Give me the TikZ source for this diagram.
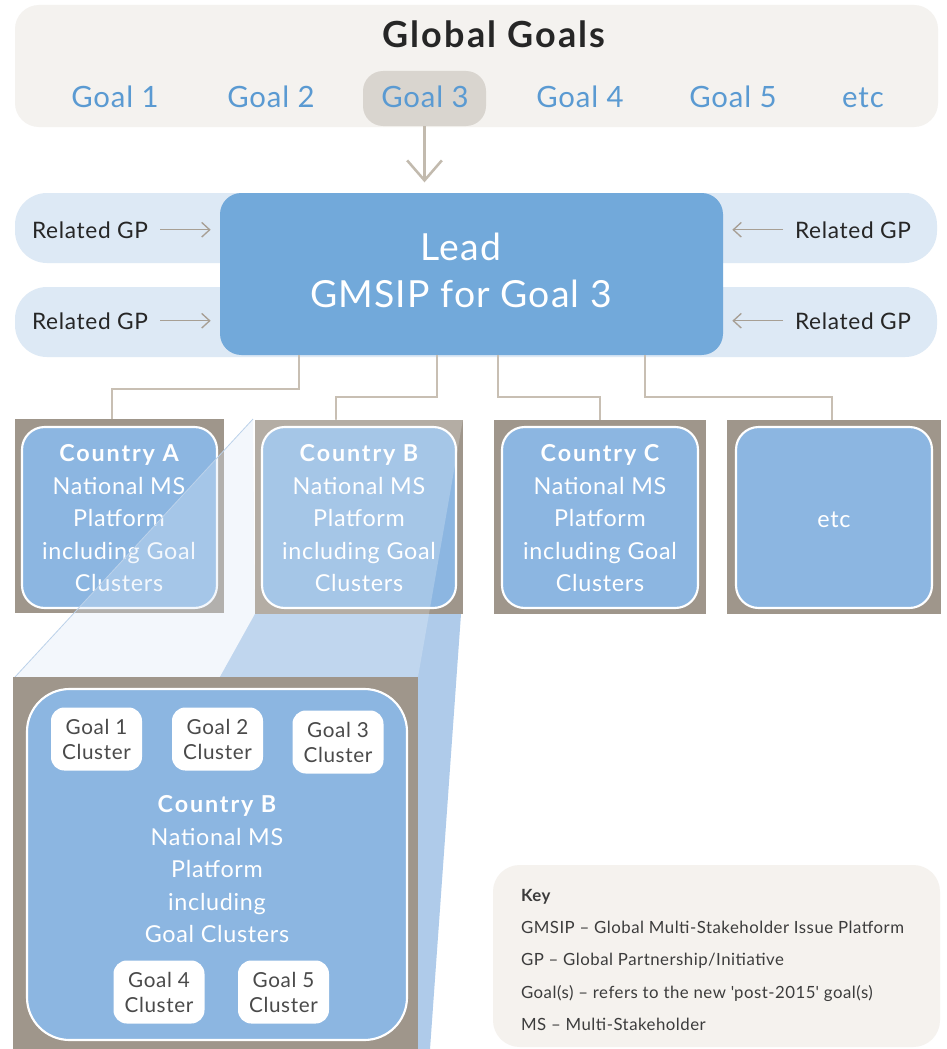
\documentclass[tikz,border=0pt]{standalone}
\usepackage{fontspec}
\setmainfont{Lato}[LetterSpace=3]
\usetikzlibrary{arrows.meta,fit,calc}
\definecolor{ggbg}{HTML}{F4F2EF}
\definecolor{goalhl}{HTML}{D9D5CF}
\definecolor{goalblue}{HTML}{5A9AD2}
\definecolor{leadblue}{HTML}{72A9DA}
\definecolor{bandblue}{HTML}{DDE9F5}
\definecolor{cblue}{HTML}{8CB6E1}
\definecolor{framec}{HTML}{9F968B}
\definecolor{connc}{HTML}{C8BFB3}
\definecolor{arrowc}{HTML}{C2BAAE}
\definecolor{relarrc}{HTML}{A79F94}
\definecolor{keybg}{HTML}{F5F2EE}
\definecolor{darktext}{HTML}{262626}
\definecolor{keytextc}{HTML}{3C3C3C}
\definecolor{cltextc}{HTML}{4A4A4A}
\definecolor{beamlight}{HTML}{DCE9F7}
\definecolor{beammid}{HTML}{AFCBEA}
\definecolor{beamedge}{HTML}{BCD2EA}
\newcommand\fsz[2]{\fontsize{#1}{#2}\selectfont}
\newcommand\cbold[1]{{\bfseries\addfontfeature{LetterSpace=8}#1}}
\begin{document}
\begin{tikzpicture}[x=0.75pt,y=-0.75pt,
  area/.style={inner sep=0pt, outer sep=0pt, draw=none},
  lbl/.style={inner sep=0pt, outer sep=0pt, anchor=base},
  goallbl/.style={lbl, font=\fsz{22}{26}, text=goalblue},
  reltext/.style={lbl, font=\fsz{17}{20}, text=darktext},
  relarr/.style={draw=relarrc, line width=1pt, -{Straight Barb[length=6pt,width=11pt]}},
  bigarrow/.style={draw=arrowc, line width=1.9pt, -{Straight Barb[length=15pt,width=26pt,line width=1.9pt]}},
  conn/.style={draw=connc, line width=1.9pt},
  framebox/.style={area, fill=framec},
  innerbox/.style={area, fill=cblue, draw=white, line width=1.6pt, rounded corners=17pt},
  ctext/.style={inner sep=0pt, outer sep=0pt, align=center, text=white, font=\fsz{17.5}{24.4}},
  cluster/.style={fill=white, rounded corners=10pt, inner sep=0pt, align=center,
    minimum width=91*0.75pt, minimum height=63*0.75pt, text=cltextc, font=\fsz{15.5}{18.75}},
  keyline/.style={lbl, anchor=base west, font=\fsz{12.6}{16}, text=keytextc}
]
\useasboundingbox (0,0) rectangle (946,1049);
\fill[white] (0,0) rectangle (946,1049);

% Global goals
\node[area, fill=ggbg, rounded corners=18pt, fit={(15,5) (938,127)}] (gg) {};
\node[lbl, font=\fsz{27}{30}\bfseries\addfontfeature{LetterSpace=6}, text=darktext] (ggt) at (494,48) {Global Goals};
\node[area, fill=goalhl, rounded corners=15pt, fit={(363,71) (486,126)}] (g3box) {};
\node[goallbl] (g1) at (115,108) {Goal 1};
\node[goallbl] (g2) at (271,108) {Goal 2};
\node[goallbl] (g3) at (425,108) {Goal 3};
\node[goallbl] (g4) at (580,108) {Goal 4};
\node[goallbl] (g5) at (733,108) {Goal 5};
\node[goallbl] (g6) at (863,108) {etc};

% Bands and lead box
\node[area, fill=bandblue, rounded corners=24pt, fit={(15,193) (937,263)}] (band1) {};
\node[area, fill=bandblue, rounded corners=24pt, fit={(15,287) (937,357)}] (band2) {};
\node[area, fill=leadblue, rounded corners=16pt, fit={(220,193) (723,355)}] (lead) {};
\node[inner sep=0pt, align=center, anchor=north, text=white, font=\fsz{28}{35.25}] (leadt) at (461,233) {Lead\\GMSIP for Goal 3};
\draw[bigarrow, shorten >=8pt] (g3box.south) -- (g3box.south |- lead.north);

\node[reltext, anchor=base west] (r1) at (32,238) {Related GP};
\node[reltext, anchor=base west] (r2) at (32,329) {Related GP};
\node[reltext, anchor=base west] (r3) at (795,238) {Related GP};
\node[reltext, anchor=base west] (r4) at (795,329) {Related GP};
\draw[relarr] ([xshift=9pt]r1.east) -- ([xshift=-7pt]lead.west |- r1.east);
\draw[relarr] ([xshift=9pt]r2.east) -- ([xshift=-7pt]lead.west |- r2.east);
\draw[relarr] ([xshift=-9pt]r3.west) -- ([xshift=7pt]lead.east |- r3.west);
\draw[relarr] ([xshift=-9pt]r4.west) -- ([xshift=7pt]lead.east |- r4.west);

% Country boxes
\node[framebox, fit={(15,419) (224,613)}] (fA) {};
\node[framebox, fit={(255,420) (463,614)}] (fB) {};
\node[framebox, fit={(494,420) (706,614)}] (fC) {};
\node[framebox, fit={(727,420) (941,614)}] (fD) {};
\node[innerbox, fit={(22,427) (217,608)}] (iA) {};
\node[innerbox, fit={(262,427) (456,608)}] (iB) {};
\node[innerbox, fit={(502,427) (698,608)}] (iC) {};
\node[innerbox, fit={(736,427) (932,608)}] (iD) {};
\node[ctext, anchor=north] (tA) at (119,444.5) {\cbold{Country A}\\National MS\\Platform\\including Goal\\Clusters};
\node[ctext, anchor=north] (tB) at (359,444.5) {\cbold{Country B}\\National MS\\Platform\\including Goal\\Clusters};
\node[ctext, anchor=north] (tC) at (600,444.5) {\cbold{Country C}\\National MS\\Platform\\including Goal\\Clusters};
\node[ctext] (tD) at (834,520) {etc};

% Connectors
\draw[conn] (lead.south -| 299,0) |- (112,389) -- (fA.north -| 112,0);
\draw[conn] (lead.south -| 437,0) |- (336,397) -- (fB.north -| 336,0);
\draw[conn] (lead.south -| 498,0) |- (600,397) -- (fC.north -| 600,0);
\draw[conn] (lead.south -| 645,0) |- (832,397) -- (fD.north -| 832,0);

% Projection beam
\fill[beamlight, opacity=0.32] (253,419) -- (255,614) -- (13,1049) -- (15,677) -- cycle;
\fill[beammid] (255,614) -- (461,614) -- (430,1049) -- (13,1049) -- cycle;
\fill[white, opacity=0.22] (255,419) -- (463,419) -- (418,677) -- (220,677) -- (255,614) -- cycle;
\draw[beamedge, line width=0.6pt] (253,419) -- (15,677);

% Zoomed Country B
\node[framebox, fit={(13,677) (418,1049)}] (fBig) {};
\node[area, fill=cblue, draw=white, line width=1.6pt, rounded corners=32pt, fit={(27,689) (407,1040)}] (iBig) {};
\node[cluster] (c1) at (96.5,739) {Goal 1\\Cluster};
\node[cluster] (c2) at (217.5,739) {Goal 2\\Cluster};
\node[cluster] (c3) at (338,742) {Goal 3\\Cluster};
\node[cluster] (c4) at (159,992) {Goal 4\\Cluster};
\node[cluster] (c5) at (283.5,992) {Goal 5\\Cluster};
\node[ctext, anchor=north] (tBig) at (217,795.5) {\cbold{Country B}\\National MS\\Platform\\including\\Goal Clusters};

% Key
\node[area, fill=keybg, rounded corners=20pt, fit={(493,865) (940,1047)}] (key) {};
\node[keyline] (k0) at (521,901) {\textbf{Key}};
\node[keyline] (k1) at (521,933) {GMSIP – Global Multi-Stakeholder Issue Platform};
\node[keyline] (k2) at (521,965) {GP – Global Partnership/Initiative};
\node[keyline] (k3) at (521,998) {Goal(s) – refers to the new \textquotesingle post-2015\textquotesingle\ goal(s)};
\node[keyline] (k4) at (521,1030) {MS – Multi-Stakeholder};
\end{tikzpicture}
\end{document}
